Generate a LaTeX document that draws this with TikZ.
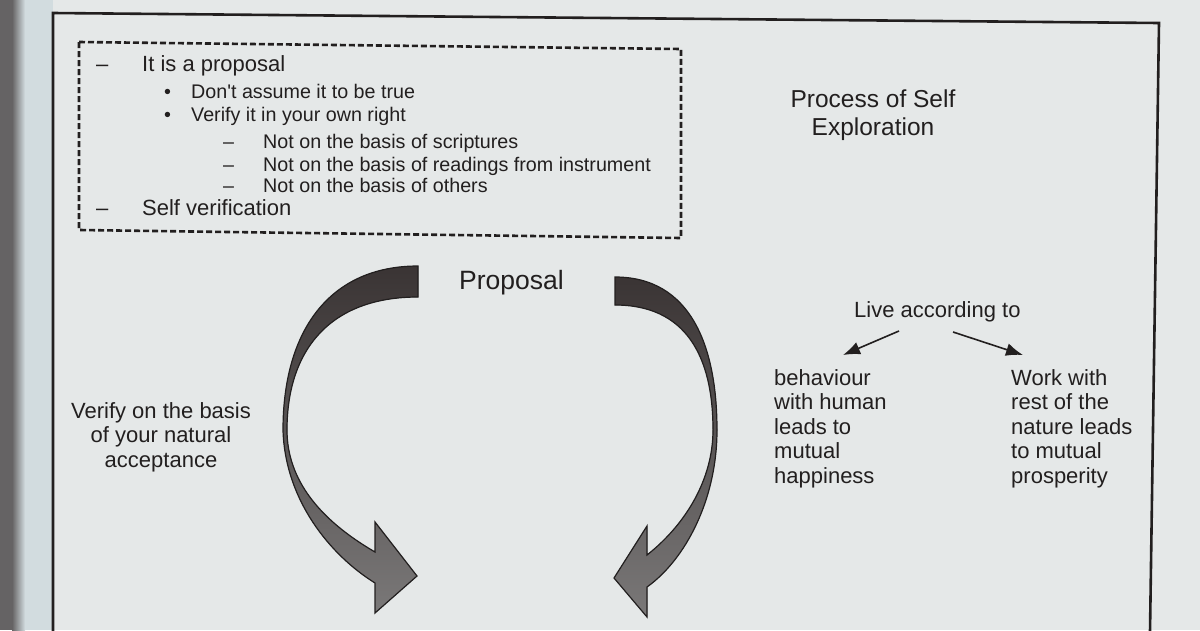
\documentclass[tikz,border=0pt]{standalone}
\usepackage{fontspec}
\setmainfont{Liberation Sans}
\usetikzlibrary{arrows.meta,positioning,calc}

\definecolor{paper}{HTML}{E5E8E8}
\definecolor{margin}{HTML}{D2DCDF}
\definecolor{spine}{HTML}{656364}
\definecolor{ink}{HTML}{221F1F}
\definecolor{ribbontop}{HTML}{3A3434}
\definecolor{ribbonbot}{HTML}{7A7878}

\newcommand\bigline{\fontsize{22}{24}\selectfont}
\newcommand\smallline{\fontsize{19.7}{23}\selectfont}

\tikzset{
  txt/.style={inner sep=0pt, text=ink, anchor=base west},
  block/.style={inner sep=0pt, text=ink, align=left, anchor=north west,
    font=\fontsize{22}{24.5}\selectfont},
  frame/.style={draw=ink, line width=2.6pt},
  dashbox/.style={draw=ink, line width=2.6pt, dash pattern=on 6pt off 3pt},
  ribbon/.style={draw=ink, line width=1.2pt, top color=ribbontop,
    bottom color=ribbonbot},
  thin arrow/.style={draw=ink, line width=1.6pt,
    -{Latex[length=17pt,width=13pt]}}
}

\begin{document}
\begin{tikzpicture}[x=1pt, y=-1pt]
		\useasboundingbox (0,0) rectangle (1200,630);
		% photographed page
		\fill[paper] (0,0) rectangle (1200,630);
		\fill[margin] (0,0) rectangle (53,630);
		\fill[spine] (0,0) rectangle (12,630);
		\shade[left color=spine, right color=margin] (12,0) rectangle (25,630);
		\draw[frame] (53,632) -- (53,13) -- (1159,23) -- (1150,632);

		% the dashed list
		\draw[dashbox] (79,42) -- (681,49) -- (681,238) -- (79,230) -- cycle;
		\node[txt] (l1) at (96,71) {\bigline\makebox[46pt][l]{–}It is a proposal};
		\node[txt] (l2) at (164,98) {\smallline\makebox[27pt][l]{•}Don\textquotesingle t assume it to be true};
		\node[txt] (l3) at (164,121) {\smallline\makebox[27pt][l]{•}Verify it in your own right};
		\node[txt] (l4) at (223,148) {\smallline\makebox[40pt][l]{–}Not on the basis of scriptures};
		\node[txt] (l5) at (223,171) {\smallline\makebox[40pt][l]{–}Not on the basis of readings from instrument};
		\node[txt] (l6) at (223,192) {\smallline\makebox[40pt][l]{–}Not on the basis of others};
		\node[txt] (l7) at (96,215) {\bigline\makebox[46pt][l]{–}Self verification};

		\node[inner sep=0pt, text=ink, align=center, anchor=north,
		  font=\fontsize{24.5}{28}\selectfont] (title) at (873,90)
		  {Process of Self\\Exploration};

		% the loop of the proposal
		\node[txt, font=\fontsize{26.5}{30}\selectfont] (prop) at (459,289) {Proposal};
		\filldraw[ribbon] (418,266) .. controls (330,266) and (283,330) .. (283,430)
		  .. controls (285,500) and (330,555) .. (375,583)
		  -- (375,613) -- (417,576) -- (375,522) -- (375,552)
		  .. controls (320,520) and (287,480) .. (287,430)
		  .. controls (287,350) and (330,297) .. (418,297) -- cycle;
		\filldraw[ribbon] (615,277) .. controls (690,277) and (717,345) .. (717,430)
		  .. controls (717,500) and (685,560) .. (647,587)
		  -- (647,617) -- (614,578) -- (647,526) -- (647,555)
		  .. controls (685,525) and (713,480) .. (713,430)
		  .. controls (713,355) and (685,305) .. (615,305) -- cycle;
		\node[block, align=center, anchor=north] (verify) at (161,402)
		  {Verify on the basis\\of your natural\\acceptance};

		% live according to
		\node[txt, font=\fontsize{22}{24}\selectfont] (live) at (854,317) {Live according to};
		\node[block] (behav) at (774,369) {behaviour\\with human\\leads to\\mutual\\happiness};
		\node[block] (work) at (1011,369) {Work with\\rest of the\\nature leads\\to mutual\\prosperity};
		\draw[thin arrow] ([shift={(45,14)}]live.base west) -- ([shift={(69,-14)}]behav.north west);
		\draw[thin arrow] ([shift={(99,15)}]live.base west) -- ([shift={(12,-14)}]work.north west);
		\end{tikzpicture}
\end{document}
